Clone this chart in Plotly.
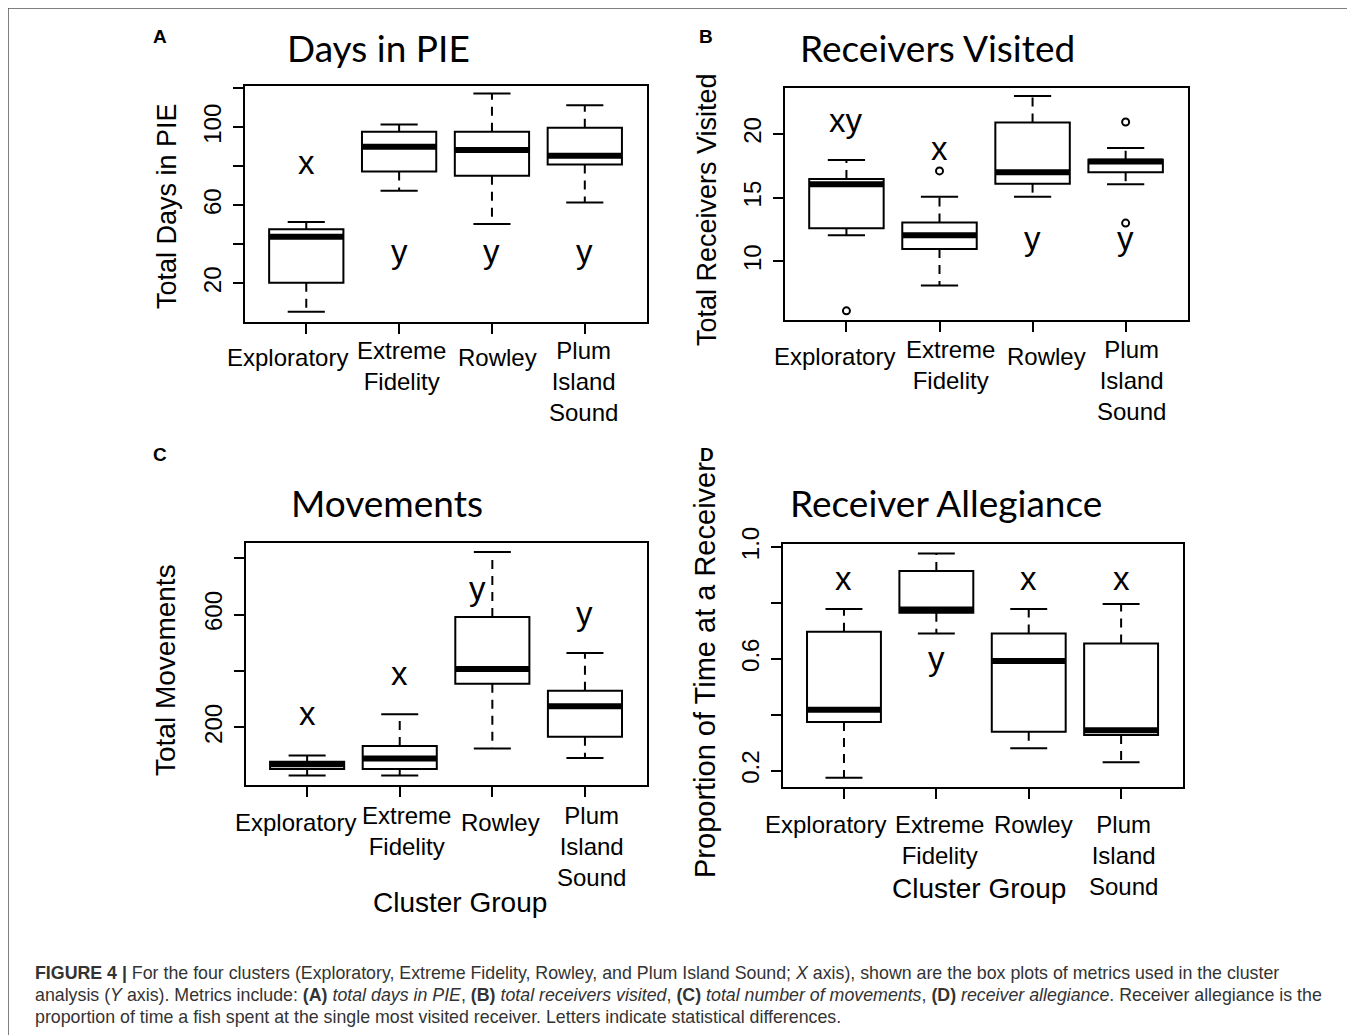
import plotly.graph_objects as go

# Page offset: the browser body has an 8px margin, so figure pixels = screen pixels - 8
OFF = 8
W, H = 1347, 1027


def fx(px):
    return (px - OFF) / W


def fy(py):
    return 1 - (py - OFF) / H


categories = ["Exploratory", "Extreme Fidelity", "Rowley", "Plum Island Sound"]
tick_labels = ["Exploratory", "Extreme<br>Fidelity", "Rowley", "Plum<br>Island<br>Sound"]

# ---- Panel A: Days in PIE ----
days_low = [5.5, 67.5, 50.4, 61.5]
days_q1 = [20.3, 77.3, 75.2, 81.0]
days_med = [43.9, 90.1, 88.4, 85.5]
days_q3 = [47.7, 97.8, 97.8, 99.8]
days_high = [51.5, 101.5, 117.4, 111.3]
days_outliers = [[], [], [], []]
days_letters = ["x", "y", "y", "y"]
days_letter_pos = [82.0, 36.2, 36.2, 36.2]
days_ticks = [20, 40, 60, 80, 100, 120]
days_ticktext = ["20", "", "60", "", "100", ""]

# ---- Panel B: Receivers Visited ----
recv_low = [12.05, 8.1, 15.07, 16.06]
recv_q1 = [12.6, 10.97, 16.1, 17.0]
recv_med = [16.05, 12.05, 17.0, 17.85]
recv_q3 = [16.46, 13.04, 20.9, 17.98]
recv_high = [17.95, 15.07, 23.0, 18.9]
recv_outliers = [[6.1], [17.1], [], [20.95, 13.0]]
recv_letters = ["xy", "x", "y", "y"]
recv_letter_pos = [21.1, 18.9, 11.76, 11.76]
recv_ticks = [10, 15, 20]
recv_ticktext = ["10", "15", "20"]

# ---- Panel C: Movements ----
move_low = [30, 30, 125.7, 91.4]
move_q1 = [52.5, 52.5, 354.6, 167]
move_med = [70, 90, 407.7, 275.5]
move_q3 = [78.5, 134, 591.7, 329.8]
move_high = [101, 247, 821.8, 464.3]
move_outliers = [[], [], [], []]
move_letters = ["x", "x", "y", "y"]
move_letter_pos = [249.6, 391, 692, 603.5]
move_ticks = [200, 400, 600, 800]
move_ticktext = ["200", "", "600", ""]

# ---- Panel D: Receiver Allegiance ----
alle_low = [0.175, 0.691, 0.28, 0.23]
alle_q1 = [0.374, 0.765, 0.339, 0.328]
alle_med = [0.418, 0.777, 0.592, 0.345]
alle_q3 = [0.697, 0.914, 0.691, 0.655]
alle_high = [0.778, 0.977, 0.778, 0.796]
alle_outliers = [[], [], [], []]
alle_letters = ["x", "y", "x", "x"]
alle_letter_pos = [0.888, 0.603, 0.888, 0.888]
alle_ticks = [0.2, 0.4, 0.6, 0.8, 1.0]
alle_ticktext = ["0.2", "", "0.6", "", "1.0"]

panels = [
    dict(tag="A", title="Days in PIE", ytitle="Total Days in PIE",
         low=days_low, q1=days_q1, med=days_med, q3=days_q3, high=days_high,
         out=days_outliers, letters=days_letters, letter_pos=days_letter_pos,
         ticks=days_ticks, ticktext=days_ticktext, yrange=[0.2, 121.2],
         box=(245, 647, 86, 322), title_xy=(378, 48), tag_xy=(160, 36),
         ytitle_xy=(167, 206), ytitle_size=27, xtitle=None, letter_dx=[0, 0, 0, 0],
         label_dx=[-19, 2, 6, -1], label_y=(357, 350)),
    dict(tag="B", title="Receivers Visited", ytitle="Total Receivers Visited",
         low=recv_low, q1=recv_q1, med=recv_med, q3=recv_q3, high=recv_high,
         out=recv_outliers, letters=recv_letters, letter_pos=recv_letter_pos,
         ticks=recv_ticks, ticktext=recv_ticktext, yrange=[5.38, 23.62],
         box=(785, 1188, 88, 320), title_xy=(938, 48), tag_xy=(706, 36),
         ytitle_xy=(707, 210), ytitle_size=27, xtitle=None, letter_dx=[0, 0, 0, 0],
         label_dx=[-12, 11, 14, 6], label_y=(356, 349)),
    dict(tag="C", title="Movements", ytitle="Total Movements",
         low=move_low, q1=move_q1, med=move_med, q3=move_q3, high=move_high,
         out=move_outliers, letters=move_letters, letter_pos=move_letter_pos,
         ticks=move_ticks, ticktext=move_ticktext, yrange=[-4, 854],
         box=(246, 647, 543, 785), title_xy=(387, 502), tag_xy=(160, 454),
         ytitle_xy=(165, 670), ytitle_size=28, xtitle=(460, 902), letter_dx=[0, 0, -0.16, 0],
         label_dx=[-12, 7, 8, 7], label_y=(822, 815)),
    dict(tag="D", title="Receiver Allegiance", ytitle="Proportion of Time at a Receiver",
         low=alle_low, q1=alle_q1, med=alle_med, q3=alle_q3, high=alle_high,
         out=alle_outliers, letters=alle_letters, letter_pos=alle_letter_pos,
         ticks=alle_ticks, ticktext=alle_ticktext, yrange=[0.1415, 1.011],
         box=(783, 1183, 544, 787), title_xy=(946, 502), tag_xy=(707, 454),
         ytitle_xy=(705, 670), ytitle_size=29, xtitle=(979, 888), letter_dx=[0, 0, 0, 0],
         label_dx=[-18, 3, 5, 2], label_y=(824, 824)),
]

SANS = "Liberation Sans, Arial, sans-serif"
TICKFONT = dict(family=SANS, size=24, color="black")
fig = go.Figure()
annotations = []
layout = {}
xs = [i + 1 for i in range(len(categories))]
BW = 0.8

for k, p in enumerate(panels, start=1):
    xa, ya = f"x{k}", f"y{k}"
    fig.add_trace(go.Box(x=xs, q1=p["q1"], median=p["med"], q3=p["q3"],
                         lowerfence=p["q1"], upperfence=p["q3"], width=BW,
                         fillcolor="white", line=dict(color="black", width=2),
                         whiskerwidth=0, boxpoints=False, showlegend=False,
                         hoverinfo="skip", xaxis=xa, yaxis=ya))
    wx, wy, sx, sy, mx, my = [], [], [], [], [], []
    ox, oy = [], []
    for c, lo, q1, md, q3, hi, out in zip(xs, p["low"], p["q1"], p["med"], p["q3"], p["high"], p["out"]):
        wx += [c, c, None, c, c, None]
        wy += [q3, hi, None, q1, lo, None]
        sx += [c - BW / 4, c + BW / 4, None, c - BW / 4, c + BW / 4, None]
        sy += [hi, hi, None, lo, lo, None]
        mx += [c - BW / 2, c + BW / 2, None]
        my += [md, md, None]
        for o in out:
            ox.append(c)
            oy.append(o)
    fig.add_trace(go.Scatter(x=wx, y=wy, mode="lines", line=dict(color="black", width=2, dash="9px,7px"),
                             showlegend=False, hoverinfo="skip", xaxis=xa, yaxis=ya))
    fig.add_trace(go.Scatter(x=sx, y=sy, mode="lines", line=dict(color="black", width=2),
                             showlegend=False, hoverinfo="skip", xaxis=xa, yaxis=ya))
    fig.add_trace(go.Scatter(x=mx, y=my, mode="lines", line=dict(color="black", width=6),
                             showlegend=False, hoverinfo="skip", xaxis=xa, yaxis=ya))
    if ox:
        fig.add_trace(go.Scatter(x=ox, y=oy, mode="markers",
                                 marker=dict(symbol="circle-open", size=7, color="black", line=dict(width=2)),
                                 showlegend=False, hoverinfo="skip", xaxis=xa, yaxis=ya))
    l, r, t, b = p["box"]
    layout[f"xaxis{k}"] = dict(domain=[fx(l), fx(r)], anchor=ya, range=[0.34, 4.67],
                               tickvals=xs, showticklabels=False, ticks="outside", ticklen=10,
                               tickwidth=2, tickcolor="black", showline=True, mirror=True,
                               linewidth=2, linecolor="black", showgrid=False, zeroline=False,
                               fixedrange=True, automargin=False)
    layout[f"yaxis{k}"] = dict(domain=[fy(b), fy(t)], anchor=xa, range=p["yrange"],
                               tickvals=p["ticks"], ticktext=p["ticktext"], ticks="outside", ticklen=10,
                               tickwidth=2, tickcolor="black", showline=True, mirror=True,
                               linewidth=2, linecolor="black", showgrid=False, zeroline=False,
                               tickfont=TICKFONT, tickangle=-90, ticklabelstandoff=2, fixedrange=True,
                               automargin=False)
    # category labels (R-style placement, nudged sideways like the original)
    single_y, multi_y = p["label_y"]
    for c, lab, dx in zip(xs, tick_labels, p["label_dx"]):
        first_center = multi_y if "<br>" in lab else single_y
        annotations.append(dict(x=c, y=fy(first_center - 15), xref=xa, yref="paper", text=lab,
                                showarrow=False, xshift=dx, align="center",
                                font=TICKFONT, xanchor="center", yanchor="top"))
    for c, let, ly, dx in zip(xs, p["letters"], p["letter_pos"], p["letter_dx"]):
        annotations.append(dict(x=c + dx, y=ly, xref=xa, yref=ya, text=let, showarrow=False,
                                font=dict(family=SANS, size=33, color="black"),
                                xanchor="center", yanchor="middle"))
    tx, ty = p["title_xy"]
    annotations.append(dict(x=fx(tx), y=fy(ty), xref="paper", yref="paper", text=p["title"],
                            showarrow=False, font=dict(family="Lato, Open Sans, sans-serif", size=37, color="black"),
                            xanchor="center", yanchor="middle"))
    gx, gy = p["tag_xy"]
    annotations.append(dict(x=fx(gx), y=fy(gy), xref="paper", yref="paper", text=f"<b>{p['tag']}</b>",
                            showarrow=False, font=dict(family=SANS, size=19, color="black"),
                            xanchor="center", yanchor="middle"))
    yx, yy = p["ytitle_xy"]
    annotations.append(dict(x=fx(yx), y=fy(yy), xref="paper", yref="paper", text=p["ytitle"],
                            showarrow=False, textangle=-90,
                            font=dict(family=SANS, size=p["ytitle_size"], color="black"),
                            xanchor="center", yanchor="middle"))
    if p["xtitle"]:
        cx, cy = p["xtitle"]
        annotations.append(dict(x=fx(cx), y=fy(cy), xref="paper", yref="paper", text="Cluster Group",
                                showarrow=False, font=dict(family=SANS, size=28, color="black"),
                                xanchor="center", yanchor="middle"))

caption_lines = [
    "<b>FIGURE 4 |</b> For the four clusters (Exploratory, Extreme Fidelity, Rowley, and Plum Island Sound; "
    "<i>X</i> axis), shown are the box plots of metrics used in the cluster",
    "analysis (<i>Y</i> axis). Metrics include: <b>(A)</b> <i>total days in PIE</i>, <b>(B)</b> "
    "<i>total receivers visited</i>, <b>(C)</b> <i>total number of movements</i>, <b>(D)</b> "
    "<i>receiver allegiance</i>. Receiver allegiance is the",
    "proportion of time a fish spent at the single most visited receiver. Letters indicate statistical differences.",
]
for line, cyp in zip(caption_lines, [973, 995, 1017]):
    annotations.append(dict(x=fx(33), y=fy(cyp), xref="paper", yref="paper", text=line, showarrow=False,
                            align="left", xanchor="left", yanchor="middle",
                            font=dict(family=SANS, size=17.8, color="#333333")))

shapes = [
    dict(type="line", xref="paper", yref="paper", x0=fx(8), x1=1, y0=fy(8), y1=fy(8),
         line=dict(color="#555555", width=1.5)),
    dict(type="line", xref="paper", yref="paper", x0=fx(8), x1=fx(8), y0=fy(8), y1=0,
         line=dict(color="#555555", width=1.5)),
]

fig.update_layout(width=W, height=H, margin=dict(l=0, r=0, t=0, b=0, pad=0, autoexpand=False),
                  paper_bgcolor="white", plot_bgcolor="white", showlegend=False,
                  annotations=annotations, shapes=shapes, **layout)
fig.write_html("out.html")
